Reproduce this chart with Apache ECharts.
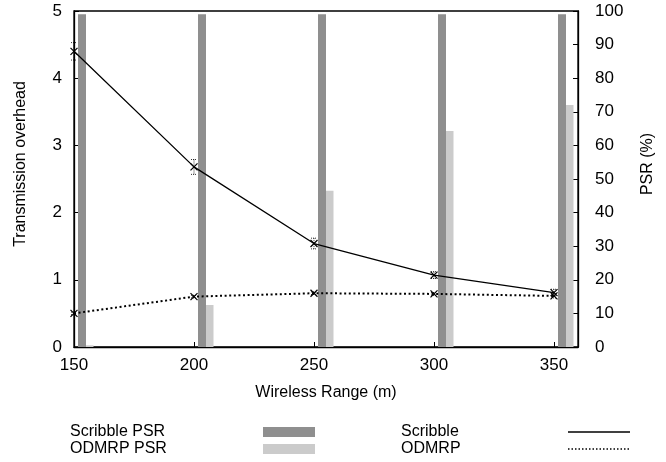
<!DOCTYPE html>
<html>
<head>
<meta charset="utf-8">
<script src="https://cdn.jsdelivr.net/npm/echarts@6/dist/echarts.min.js"></script>
<style>html,body{margin:0;padding:0;background:#fff}#c{width:666px;height:462px}</style>
</head>
<body>
<div id="c"></div>
<script>
const ranges = [150, 200, 250, 300, 350];
const scribbleOverhead = [4.40, 2.68, 1.54, 1.07, 0.81];
const scribbleErr = [0.13, 0.11, 0.08, 0.05, 0.05];
const odmrpOverhead = [0.50, 0.75, 0.80, 0.79, 0.76];
const odmrpErr = [0.02, 0.02, 0.02, 0.02, 0.03];
const scribblePSR = [99, 99, 99, 99, 99];
const odmrpPSR = [0.5, 12.5, 46.5, 64.3, 72.0];
const leftTicks = [0, 1, 2, 3, 4, 5];
const rightTicks = [0, 10, 20, 30, 40, 50, 60, 70, 80, 90, 100];
const legendNames = ['Scribble PSR', 'ODMRP PSR', 'Scribble', 'ODMRP'];

const FONT = '"Liberation Sans", Arial, Helvetica, sans-serif';
const DARK = '#8f8f8f', LIGHT = '#cbcbcb';

function pairs(xs, ys) { return xs.map((x, i) => [x, ys[i]]); }
function triples(xs, ys, es) { return xs.map((x, i) => [x, ys[i], es[i]]); }

function barRender(offL, width, color) {
  return function (params, api) {
    const x = api.value(0), y = api.value(1);
    const top = api.coord([x, y]);
    const base = api.coord([x, 0]);
    return {
      type: 'rect',
      shape: { x: top[0] + offL, y: top[1], width: width, height: base[1] - top[1] },
      style: { fill: color }
    };
  };
}

function errRender(params, api) {
  const x = api.value(0), y = api.value(1), e = api.value(2);
  const c = api.coord([x, y]);
  const hi = api.coord([x, y + e]);
  const lo = api.coord([x, y - e]);
  const cap = 3, m = 3.5;
  const dash = { stroke: '#000', lineWidth: 0.8, lineDash: [1, 1] };
  return {
    type: 'group',
    children: [
      { type: 'line', shape: { x1: c[0], y1: hi[1], x2: c[0], y2: lo[1] }, style: dash },
      { type: 'line', shape: { x1: c[0] - cap, y1: hi[1], x2: c[0] + cap, y2: hi[1] }, style: dash },
      { type: 'line', shape: { x1: c[0] - cap, y1: lo[1], x2: c[0] + cap, y2: lo[1] }, style: dash },
      { type: 'line', shape: { x1: c[0] - m, y1: c[1] - m, x2: c[0] + m, y2: c[1] + m }, style: { stroke: '#000', lineWidth: 1.2 } },
      { type: 'line', shape: { x1: c[0] - m, y1: c[1] + m, x2: c[0] + m, y2: c[1] - m }, style: { stroke: '#000', lineWidth: 1.2 } }
    ]
  };
}

const legendText = (name, x, y) => ({
  type: 'text', left: x, top: y,
  style: { text: name, fontFamily: FONT, fontSize: 16, fill: '#000' }
});

const chart = echarts.init(document.getElementById('c'), null, { renderer: 'canvas' });
const axisLine = { show: true, lineStyle: { color: '#000', width: 1.3 } };
chart.setOption({
  animation: false,
  textStyle: { fontFamily: FONT },
  grid: { left: 74, right: 88, top: 11, bottom: 115, show: true, borderColor: '#000', borderWidth: 1.3, backgroundColor: 'transparent' },
  xAxis: {
    type: 'value', min: 150, max: 360, interval: 50,
    name: 'Wireless Range (m)', nameLocation: 'middle', nameGap: 38,
    nameTextStyle: { fontFamily: FONT, fontSize: 16, color: '#000' },
    axisLine: axisLine,
    axisTick: { show: true, inside: true, length: 5, lineStyle: { color: '#000', width: 1 } },
    axisLabel: { fontFamily: FONT, fontSize: 17, color: '#000', margin: 10, showMaxLabel: false,
      formatter: v => ranges.includes(v) ? String(v) : '' },
    splitLine: { show: false }
  },
  yAxis: [
    {
      type: 'value', min: 0, max: 5, interval: 1, position: 'left',
      name: 'Transmission overhead', nameLocation: 'middle', nameGap: 45,
      nameTextStyle: { fontFamily: FONT, fontSize: 16, color: '#000', padding: [0, 0, 0, 30] },
      axisLine: axisLine,
      axisTick: { show: true, inside: true, length: 5, lineStyle: { color: '#000', width: 1 } },
      axisLabel: { fontFamily: FONT, fontSize: 17, color: '#000', margin: 12,
        formatter: v => leftTicks.includes(v) ? String(v) : '' },
      splitLine: { show: false }
    },
    {
      type: 'value', min: 0, max: 100, interval: 10, position: 'right',
      name: 'PSR (%)', nameLocation: 'middle', nameGap: 62, nameRotate: 90,
      nameTextStyle: { fontFamily: FONT, fontSize: 16, color: '#000', padding: [0, 0, 0, 30] },
      axisLine: axisLine,
      axisTick: { show: true, inside: true, length: 5, lineStyle: { color: '#000', width: 1 } },
      axisLabel: { fontFamily: FONT, fontSize: 17, color: '#000', margin: 17,
        formatter: v => rightTicks.includes(v) ? String(v) : '' },
      splitLine: { show: false }
    }
  ],
  graphic: [
    legendText(legendNames[0], 70, 424),
    legendText(legendNames[1], 70, 441),
    { type: 'rect', shape: { x: 263, y: 427, width: 52, height: 10 }, style: { fill: DARK } },
    { type: 'rect', shape: { x: 263, y: 444, width: 52, height: 10 }, style: { fill: LIGHT } },
    legendText(legendNames[2], 401, 424),
    legendText(legendNames[3], 401, 441),
    { type: 'line', shape: { x1: 568, y1: 432, x2: 630, y2: 432 }, style: { stroke: '#000', lineWidth: 1.3 } },
    { type: 'line', shape: { x1: 568, y1: 449, x2: 630, y2: 449 }, style: { stroke: '#000', lineWidth: 1.5, lineDash: [1.5, 2] } }
  ],
  series: [
    { name: 'Scribble PSR', type: 'custom', yAxisIndex: 1, data: pairs(ranges, scribblePSR),
      renderItem: barRender(4, 8, DARK), itemStyle: { color: DARK }, z: 1 },
    { name: 'ODMRP PSR', type: 'custom', yAxisIndex: 1, data: pairs(ranges, odmrpPSR),
      renderItem: barRender(12, 7.5, LIGHT), itemStyle: { color: LIGHT }, z: 1 },
    { name: 'Scribble', type: 'line', yAxisIndex: 0, data: pairs(ranges, scribbleOverhead),
      symbol: 'none', lineStyle: { color: '#000', width: 1.3 }, itemStyle: { color: '#000' }, z: 3 },
    { name: 'ODMRP', type: 'line', yAxisIndex: 0, data: pairs(ranges, odmrpOverhead),
      symbol: 'none', lineStyle: { color: '#000', width: 2, type: [2, 2.6] }, itemStyle: { color: '#000' }, z: 3 },
    { name: 'Scribble err', type: 'custom', yAxisIndex: 0, data: triples(ranges, scribbleOverhead, scribbleErr),
      renderItem: errRender, z: 4 },
    { name: 'ODMRP err', type: 'custom', yAxisIndex: 0, data: triples(ranges, odmrpOverhead, odmrpErr),
      renderItem: errRender, z: 4 }
  ]
});
</script>
</body>
</html>
